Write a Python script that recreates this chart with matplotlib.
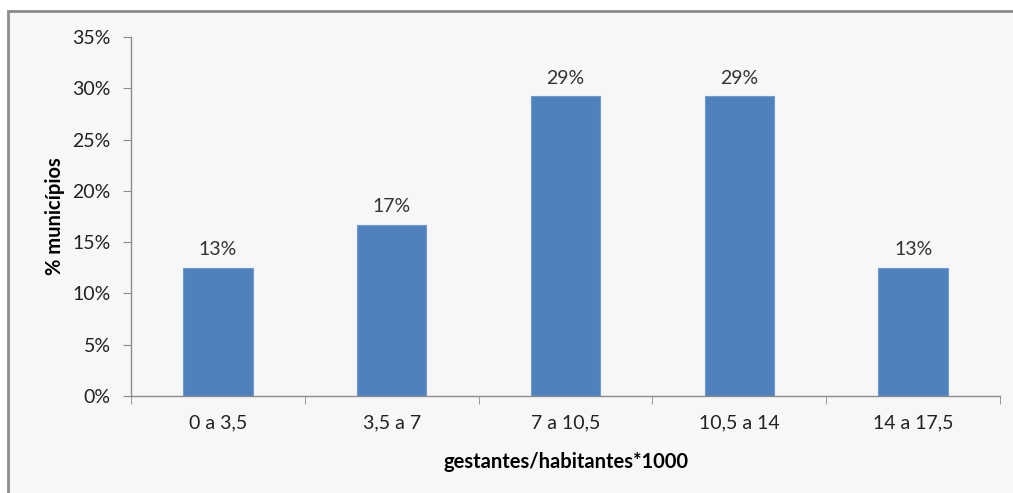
import matplotlib.pyplot as plt
from matplotlib.patches import Rectangle
from matplotlib.ticker import FuncFormatter, MultipleLocator

categories = ["0 a 3,5", "3,5 a 7", "7 a 10,5", "10,5 a 14", "14 a 17,5"]
values = [12.5, 16.7, 29.2, 29.2, 12.5]
labels = ["13%", "17%", "29%", "29%", "13%"]

plt.rcParams['font.family'] = ['Lato', 'DejaVu Sans']

W, H = 1013, 493
fig = plt.figure(figsize=(W / 100, H / 100), dpi=100)
fig.patch.set_facecolor('white')

# chart area frame (cut off at right and bottom, like the screenshot)
fig.patches.append(Rectangle((8 / W, -0.05), 1.1, 1 - 11 / H + 0.05,
                             transform=fig.transFigure, facecolor='#f7f7f7',
                             edgecolor='#8c8c8c', linewidth=2, zorder=-5))

ax = fig.add_axes([131 / W, 1 - 396 / H, (1000 - 131) / W, (396 - 37) / H])
ax.set_facecolor('none')

fs = 14
x = list(range(len(categories)))
ax.bar(x, values, width=0.4, color='#4f81bd', edgecolor='#6d9bd2', linewidth=0.8)
for xi, v, lab in zip(x, values, labels):
    ax.annotate(lab, (xi, v), xytext=(0, 7), textcoords='offset points',
                ha='center', va='bottom', fontsize=fs, color='#333333')

ax.set_xlim(-0.5, len(categories) - 0.5)
ax.set_ylim(0, 35)
ax.yaxis.set_major_locator(MultipleLocator(5))
ax.yaxis.set_major_formatter(FuncFormatter(lambda v, _: f"{v:.0f}%"))

ax.set_xticks(x)
ax.set_xticklabels(categories)
ax.set_xticks([i - 0.5 for i in range(len(categories) + 1)], minor=True)
ax.tick_params(axis='x', which='major', length=0, pad=13, labelsize=fs, labelcolor='#222222')
ax.tick_params(axis='x', which='minor', length=5.8, color='#8c8c8c', direction='out')
ax.tick_params(axis='y', length=5.8, color='#8c8c8c', labelsize=fs, labelcolor='#222222', pad=9)

for s in ['top', 'right']:
    ax.spines[s].set_visible(False)
for s in ['left', 'bottom']:
    ax.spines[s].set_color('#8c8c8c')
    ax.spines[s].set_linewidth(1)

ax.set_ylabel("% municípios", fontsize=14.5, fontweight='bold', labelpad=5)
ax.set_xlabel("gestantes/habitantes*1000", fontsize=14.5, fontweight='bold', labelpad=15)

fig.savefig("out.png", dpi=100, facecolor=fig.get_facecolor())
